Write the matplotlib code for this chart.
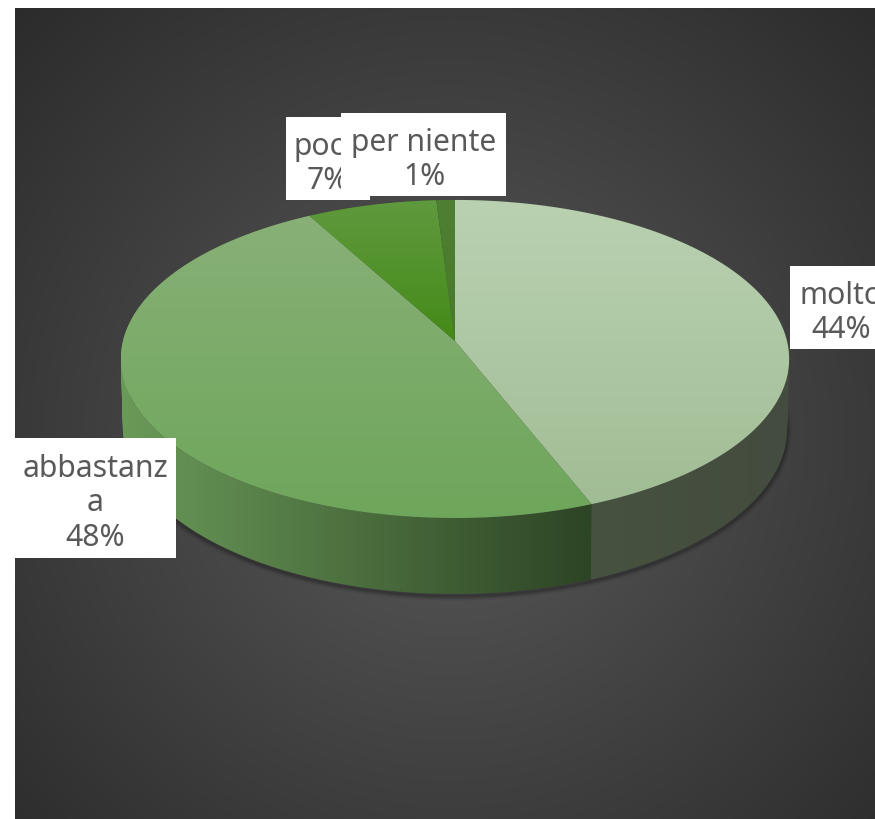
import numpy as np
import matplotlib
matplotlib.use('Agg')
import matplotlib.pyplot as plt
from matplotlib.colors import to_rgb
from matplotlib.patches import PathPatch, Rectangle
from matplotlib.path import Path

# slices go clockwise from 12 o'clock
names = ['molto', 'abbastanza', 'poco', 'per niente']
values = [44, 48, 7, 1]
label_text = ['molto\n44%', 'abbastanz\na\n48%', 'poco\n7%', 'per niente\n1%']

top_colors = [('#bad1b1', '#a1bd95'), ('#88b077', '#6ea65b'), ('#5f9a3e', '#458a18'), ('#4f7f33', '#477a2a')]
wall_colors = [('#434c3e', '#4b5641'), ('#6a9a58', '#2d4425'), ('#3c6a22', '#3c6a22'), ('#33551f', '#33551f')]

# label boxes: x0, y0, x1, y1, text centre x
boxes = {'molto': (790, 267, 890, 350, 841),
         'abbastanza': (15, 439, 176, 559, 95),
         'poco': (286, 118, 370, 201, 328),
         'per niente': (341, 114, 506, 197, 424)}

W, H = 875, 820
CX, CY = 455, 342     # where the slices meet
PERSP = 0.113


def top_edge(theta):
    u, v = np.sin(theta), np.cos(theta)
    d = 1 + PERSP * v
    return CX + 332 * u / d, CY - 157 * v / d


def bottom_edge(theta):
    u, v = np.sin(theta), np.cos(theta)
    d = 1 + PERSP * v
    return CX + 330 * u / d, 411.3 - 162.9 * v / d


def wall_path(th):
    # union of small quads so the side silhouette stays straight
    tx, ty = top_edge(th)
    bx, by = bottom_edge(th)
    quads = []
    for j in range(len(th) - 1):
        q = np.array([[tx[j], ty[j]], [tx[j + 1], ty[j + 1]], [bx[j + 1], by[j + 1]], [bx[j], by[j]]])
        area = np.sum(q[:, 0] * np.roll(q[:, 1], -1) - np.roll(q[:, 0], -1) * q[:, 1])
        if area < 0:
            q = q[::-1]
        quads.append(Path(np.vstack([q, q[:1]]), closed=True))
    return Path.make_compound_path(*quads)


def gradient_fill(ax, path, c0, c1, horizontal, z):
    # gradient image clipped to the path
    x0, y0 = path.vertices.min(axis=0)
    x1, y1 = path.vertices.max(axis=0)
    t = np.linspace(0, 1, 256)
    rgb = np.outer(1 - t, to_rgb(c0)) + np.outer(t, to_rgb(c1))
    img = rgb[None, :, :] if horizontal else rgb[:, None, :]
    im = ax.imshow(img, extent=(x0, x1, y1, y0), aspect='auto', zorder=z, interpolation='bilinear')
    patch = PathPatch(path, transform=ax.transData, facecolor='none', edgecolor='none')
    ax.add_patch(patch)
    im.set_clip_path(patch)


fig = plt.figure(figsize=(W / 100, H / 100), dpi=100, facecolor='white')
ax = fig.add_axes([0, 0, 1, 1])
ax.axis('off')

# dark radial background
yy, xx = np.mgrid[9:H, 15:W]
r = np.hypot(xx - 450, yy - 440) / 630
shade = np.clip(0x5a - (0x5a - 0x2a) * r, 0x26, 0x5a) / 255
ax.imshow(np.dstack([shade] * 3), extent=(15, W, H, 9), aspect='auto', zorder=1)

# soft shadow under the front of the pie, none on the far left
front = np.radians(np.linspace(75, 250, 300))
sx, sy = bottom_edge(front)
for grow, alpha in zip([7, 5, 3.5, 2], [0.04, 0.06, 0.08, 0.12]):
    ax.plot(sx, sy + 2, color='black', linewidth=grow, alpha=alpha, zorder=2, solid_capstyle='butt')

edges = np.cumsum([0] + values) / sum(values) * 2 * np.pi

# walls first, top faces over them
for i in range(len(values)):
    th = np.linspace(edges[i], edges[i + 1], 120)
    c0, c1 = wall_colors[i]
    if names[i] == 'molto':
        c0, c1 = c1, c0
    gradient_fill(ax, wall_path(th), c0, c1, True, 3 + i * 0.01)

for i in range(len(values)):
    th = np.linspace(edges[i], edges[i + 1], 200)
    tx, ty = top_edge(th)
    pts = np.column_stack([np.r_[CX, tx, CX], np.r_[CY, ty, CY]])
    gradient_fill(ax, Path(pts, closed=True), top_colors[i][0], top_colors[i][1], False, 4 + i * 0.01)

# data labels, poco goes under per niente as in the original
z = 6
for name, txt in zip(names, label_text):
    x0, y0, x1, y1, tc = boxes[name]
    box = Rectangle((x0, y0), x1 - x0, y1 - y0, facecolor='white', edgecolor='none', zorder=z)
    ax.add_patch(box)
    t = ax.text(tc, (y0 + y1) / 2 + 4.5, txt, ha='center', va='center', ma='center', color='#595959',
                fontsize=21.7, family='Noto Sans', linespacing=1.18, zorder=z + 0.5)
    t.set_clip_path(box)
    z += 1

ax.set_xlim(0, W)
ax.set_ylim(H, 0)
fig.savefig('out.png', dpi=100)
